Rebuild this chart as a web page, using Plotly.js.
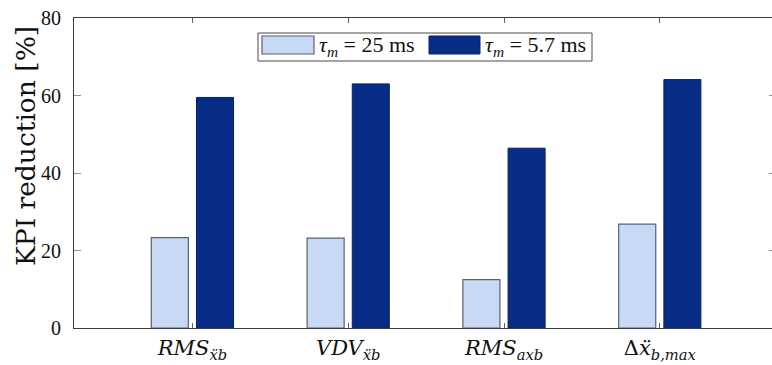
<!DOCTYPE html>
<html>
<head>
<meta charset="utf-8">
<script src="https://cdn.plot.ly/plotly-3.0.1.min.js"></script>
<style>
  html, body { margin: 0; padding: 0; overflow: hidden; background: #fff; }
  #chart { width: 776px; height: 365px; }
</style>
</head>
<body>
<div id="chart"></div>
<script>
// KPI labels (category axis)
const categories = [
  '<i>RMS<sub>ẍb</sub></i>',
  '<i>VDV<sub>ẍb</sub></i>',
  '<i>RMS<sub>axb</sub></i>',
  'Δ<i>ẍ<sub>b,max</sub></i>'
];
const positions = [1, 2, 3, 4];

// Series names
const seriesNames = [
  '<i>τ<sub>m</sub></i> = 25 ms',
  '<i>τ<sub>m</sub></i> = 5.7 ms'
];

// KPI reduction [%]
const reductionSlow = [23.3, 23.2, 12.5, 26.8];
const reductionFast = [59.5, 63.0, 46.4, 64.1];

const yTicks = [0, 20, 40, 60, 80];

// Plot geometry (pixels)
const FIG_W = 776, FIG_H = 365;
const M = { l: 74, r: 0, t: 18, b: 37 };
const PW = FIG_W - M.l - M.r, PH = FIG_H - M.t - M.b;
const px = v => (v - M.l) / PW;        // pixel x -> paper x
const py = v => 1 - (v - M.t) / PH;    // pixel y -> paper y

const SERIF = '"Liberation Serif", "DejaVu Serif", serif';
const WIDE_SERIF = '"DejaVu Serif", "Liberation Serif", serif';
const AXIS_COLOR = '#3c3c3c';
const LIGHT = '#c7d9f4', LIGHT_EDGE = '#5c6170';
const DARK = '#072c86', DARK_EDGE = '#0a2263';

const traces = [
  {
    type: 'bar', x: positions, y: reductionSlow, name: seriesNames[0],
    marker: { color: LIGHT, line: { color: LIGHT_EDGE, width: 1.2 } },
    hoverinfo: 'y'
  },
  {
    type: 'bar', x: positions, y: reductionFast, name: seriesNames[1],
    marker: { color: DARK, line: { color: DARK_EDGE, width: 1 } },
    hoverinfo: 'y'
  }
];

// Legend drawn as a framed box with wide swatches
const legendShapes = [
  { type: 'rect', xref: 'paper', yref: 'paper', x0: px(258), x1: px(592), y0: py(33), y1: py(61),
    line: { color: '#4a4a4a', width: 1 }, fillcolor: '#ffffff', layer: 'above' },
  { type: 'rect', xref: 'paper', yref: 'paper', x0: px(262), x1: px(314), y0: py(36), y1: py(54),
    line: { color: LIGHT_EDGE, width: 1.2 }, fillcolor: LIGHT, layer: 'above' },
  { type: 'rect', xref: 'paper', yref: 'paper', x0: px(429), x1: px(480), y0: py(36), y1: py(54),
    line: { color: DARK_EDGE, width: 1 }, fillcolor: DARK, layer: 'above' }
];

const annotations = [
  { xref: 'paper', yref: 'paper', x: px(317), y: py(46), xanchor: 'left', yanchor: 'middle',
    text: seriesNames[0], showarrow: false, font: { family: SERIF, size: 22, color: '#111' } },
  { xref: 'paper', yref: 'paper', x: px(483), y: py(46), xanchor: 'left', yanchor: 'middle',
    text: seriesNames[1], showarrow: false, font: { family: SERIF, size: 22, color: '#111' } },
  { xref: 'paper', yref: 'paper', x: px(25), y: py(146), xanchor: 'center', yanchor: 'middle',
    textangle: -90, text: 'KPI reduction [%]', showarrow: false,
    font: { family: WIDE_SERIF, size: 26.5, color: '#111' } }
];

const layout = {
  width: FIG_W, height: FIG_H,
  margin: M,
  paper_bgcolor: '#ffffff', plot_bgcolor: '#ffffff',
  showlegend: false,
  barmode: 'group', bargap: 0.42, bargroupgap: 0.18,
  font: { family: SERIF, size: 20, color: '#111' },
  xaxis: {
    range: [0.24, 0.24 + PW / 155.8],
    tickmode: 'array', tickvals: positions, ticktext: categories,
    showline: true, linecolor: AXIS_COLOR, linewidth: 1, mirror: 'ticks',
    ticks: 'inside', ticklen: 5, tickwidth: 0.8, tickcolor: AXIS_COLOR,
    showgrid: false, zeroline: false,
    ticklabelstandoff: 1,
    tickfont: { family: WIDE_SERIF, size: 21, color: '#111' }
  },
  yaxis: {
    range: [0, 80],
    tickmode: 'array', tickvals: yTicks,
    showline: true, linecolor: AXIS_COLOR, linewidth: 1, mirror: 'ticks',
    ticks: 'inside', ticklen: 7, tickwidth: 0.8, tickcolor: '#777',
    showgrid: false, zeroline: false,
    ticklabelstandoff: 8,
    tickfont: { family: SERIF, size: 20, color: '#111' }
  },
  shapes: legendShapes,
  annotations: annotations
};

Plotly.newPlot('chart', traces, layout, { staticPlot: true, displayModeBar: false });
</script>
</body>
</html>
